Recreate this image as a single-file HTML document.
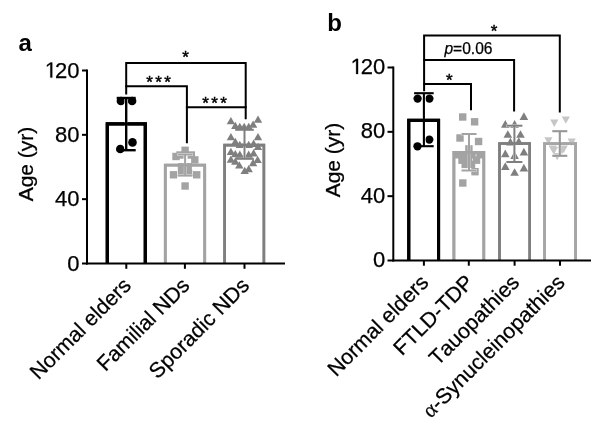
<!DOCTYPE html>
<html><head><meta charset="utf-8"><style>
html,body{margin:0;padding:0;background:#fff;width:600px;height:427px;overflow:hidden}
svg{display:block;will-change:transform}
text{font-family:"Liberation Sans", sans-serif;fill:#000;stroke:#000;stroke-width:0.25px}
</style></head><body>
<svg width="600" height="427" viewBox="0 0 600 427">
<text x="25.2" y="51.1" font-size="24" text-anchor="middle" font-weight="bold" style="stroke-width:0">a</text>
<text x="33.3" y="164" font-size="21" text-anchor="middle" transform="rotate(-90 33.3 164)">Age (yr)</text>
<path d="M107.3 263.5V123.8H145.3V263.5" fill="none" stroke="#000" stroke-width="3.2" stroke-linejoin="miter"/>
<path d="M165.3 263.5V165.1H204.7V263.5" fill="none" stroke="#a3a3a3" stroke-width="2.8" stroke-linejoin="miter"/>
<path d="M224.60000000000002 263.5V145.10000000000002H263.9V263.5" fill="none" stroke="#7f7f7f" stroke-width="2.6" stroke-linejoin="miter"/>
<circle cx="120.9" cy="101" r="4.3" fill="#000"/>
<circle cx="132.1" cy="101" r="4.3" fill="#000"/>
<circle cx="132.5" cy="142.4" r="4.3" fill="#000"/>
<circle cx="120.3" cy="149" r="4.3" fill="#000"/>
<rect x="181.40" y="146.60" width="7.4" height="7.4" fill="#a3a3a3"/>
<rect x="172.30" y="152.80" width="7.4" height="7.4" fill="#a3a3a3"/>
<rect x="176.30" y="151.30" width="7.4" height="7.4" fill="#a3a3a3"/>
<rect x="187.60" y="151.30" width="7.4" height="7.4" fill="#a3a3a3"/>
<rect x="191.10" y="156.20" width="7.4" height="7.4" fill="#a3a3a3"/>
<rect x="177.80" y="163.10" width="7.4" height="7.4" fill="#a3a3a3"/>
<rect x="184.50" y="163.10" width="7.4" height="7.4" fill="#a3a3a3"/>
<rect x="169.80" y="171.10" width="7.4" height="7.4" fill="#a3a3a3"/>
<rect x="193.00" y="171.10" width="7.4" height="7.4" fill="#a3a3a3"/>
<rect x="177.90" y="169.60" width="7.4" height="7.4" fill="#a3a3a3"/>
<rect x="184.90" y="169.60" width="7.4" height="7.4" fill="#a3a3a3"/>
<rect x="181.40" y="182.30" width="7.4" height="7.4" fill="#a3a3a3"/>
<path d="M226.70 124.20L235.10 124.20L230.9 116.90Z" fill="#7f7f7f"/>
<path d="M253.80 122.85L262.20 122.85L258 115.55Z" fill="#7f7f7f"/>
<path d="M231.10 129.10L239.50 129.10L235.3 121.80Z" fill="#7f7f7f"/>
<path d="M235.60 130.10L244.00 130.10L239.8 122.80Z" fill="#7f7f7f"/>
<path d="M240.00 130.10L248.40 130.10L244.2 122.80Z" fill="#7f7f7f"/>
<path d="M244.50 130.10L252.90 130.10L248.7 122.80Z" fill="#7f7f7f"/>
<path d="M248.90 127.75L257.30 127.75L253.1 120.45Z" fill="#7f7f7f"/>
<path d="M226.70 140.20L235.10 140.20L230.9 132.90Z" fill="#7f7f7f"/>
<path d="M253.80 140.20L262.20 140.20L258 132.90Z" fill="#7f7f7f"/>
<path d="M231.10 145.10L239.50 145.10L235.3 137.80Z" fill="#7f7f7f"/>
<path d="M235.60 147.95L244.00 147.95L239.8 140.65Z" fill="#7f7f7f"/>
<path d="M240.00 147.95L248.40 147.95L244.2 140.65Z" fill="#7f7f7f"/>
<path d="M244.50 147.95L252.90 147.95L248.7 140.65Z" fill="#7f7f7f"/>
<path d="M249.40 146.90L257.80 146.90L253.6 139.60Z" fill="#7f7f7f"/>
<path d="M253.80 150.00L262.20 150.00L258 142.70Z" fill="#7f7f7f"/>
<path d="M226.70 155.05L235.10 155.05L230.9 147.75Z" fill="#7f7f7f"/>
<path d="M231.10 157.30L239.50 157.30L235.3 150.00Z" fill="#7f7f7f"/>
<path d="M235.60 157.80L244.00 157.80L239.8 150.50Z" fill="#7f7f7f"/>
<path d="M244.50 157.80L252.90 157.80L248.7 150.50Z" fill="#7f7f7f"/>
<path d="M249.40 156.40L257.80 156.40L253.6 149.10Z" fill="#7f7f7f"/>
<path d="M226.70 162.85L235.10 162.85L230.9 155.55Z" fill="#7f7f7f"/>
<path d="M231.10 164.85L239.50 164.85L235.3 157.55Z" fill="#7f7f7f"/>
<path d="M235.10 168.45L243.50 168.45L239.3 161.15Z" fill="#7f7f7f"/>
<path d="M240.50 174.00L248.90 174.00L244.7 166.70Z" fill="#7f7f7f"/>
<path d="M244.50 172.20L252.90 172.20L248.7 164.90Z" fill="#7f7f7f"/>
<path d="M248.90 166.15L257.30 166.15L253.1 158.85Z" fill="#7f7f7f"/>
<path d="M253.40 163.05L261.80 163.05L257.6 155.75Z" fill="#7f7f7f"/>
<line x1="126.2" y1="98" x2="126.2" y2="150.2" stroke="#fff" stroke-width="3.5999999999999996"/>
<line x1="185.1" y1="154.5" x2="185.1" y2="175.4" stroke="#fff" stroke-width="2.5"/>
<line x1="177.35" y1="154.5" x2="192.85" y2="154.5" stroke="#fff" stroke-width="2.5"/>
<line x1="177.35" y1="175.4" x2="192.85" y2="175.4" stroke="#fff" stroke-width="2.5"/>
<line x1="244.5" y1="129.8" x2="244.5" y2="158.8" stroke="#fff" stroke-width="2.6"/>
<path d="M107.3 263.5V123.8H145.3V263.5" fill="none" stroke="#000" stroke-width="3.2" stroke-linejoin="miter"/>
<path d="M165.3 263.5V165.1H204.7V263.5" fill="none" stroke="#a3a3a3" stroke-width="2.8" stroke-linejoin="miter"/>
<path d="M224.60000000000002 263.5V145.10000000000002H263.9V263.5" fill="none" stroke="#7f7f7f" stroke-width="2.6" stroke-linejoin="miter"/>
<line x1="126.2" y1="98" x2="126.2" y2="150.2" stroke="#000" stroke-width="2.4"/>
<line x1="116.7" y1="98" x2="135.7" y2="98" stroke="#000" stroke-width="2.4"/>
<line x1="116.7" y1="150.2" x2="135.7" y2="150.2" stroke="#000" stroke-width="2.4"/>
<line x1="185.1" y1="154.5" x2="185.1" y2="175.4" stroke="#a3a3a3" stroke-width="2.0"/>
<line x1="177.6" y1="154.5" x2="192.6" y2="154.5" stroke="#a3a3a3" stroke-width="2.0"/>
<line x1="177.6" y1="175.4" x2="192.6" y2="175.4" stroke="#a3a3a3" stroke-width="2.0"/>
<line x1="244.5" y1="129.8" x2="244.5" y2="158.8" stroke="#7f7f7f" stroke-width="2.0"/>
<line x1="235.2" y1="129.8" x2="253.8" y2="129.8" stroke="#7f7f7f" stroke-width="2.0"/>
<line x1="235.2" y1="158.8" x2="253.8" y2="158.8" stroke="#7f7f7f" stroke-width="2.0"/>
<line x1="87" y1="69.5" x2="87" y2="264.5" stroke="#000" stroke-width="2"/>
<line x1="86" y1="263.5" x2="285" y2="263.5" stroke="#000" stroke-width="2"/>
<line x1="82" y1="263.5" x2="87" y2="263.5" stroke="#000" stroke-width="2"/>
<line x1="82" y1="199.16666666666669" x2="87" y2="199.16666666666669" stroke="#000" stroke-width="2"/>
<line x1="82" y1="134.83333333333334" x2="87" y2="134.83333333333334" stroke="#000" stroke-width="2"/>
<line x1="82" y1="70.5" x2="87" y2="70.5" stroke="#000" stroke-width="2"/>
<line x1="126.3" y1="263.5" x2="126.3" y2="268.8" stroke="#000" stroke-width="2"/>
<line x1="184.9" y1="263.5" x2="184.9" y2="268.8" stroke="#000" stroke-width="2"/>
<line x1="244.5" y1="263.5" x2="244.5" y2="268.8" stroke="#000" stroke-width="2"/>
<text x="79.5" y="270.6" font-size="22" text-anchor="end" font-weight="normal" >0</text>
<text x="79.5" y="206.26666666666668" font-size="22" text-anchor="end" font-weight="normal" >40</text>
<text x="79.5" y="141.93333333333334" font-size="22" text-anchor="end" font-weight="normal" >80</text>
<path d="M515 0L515 1237L197 1010L197 1180L530 1409L696 1409L696 0Z" fill="#000" stroke="#000" stroke-width="23.3" transform="translate(44.79 77.60) scale(0.010742 -0.010742)"/>
<text x="79.5" y="77.6" font-size="22" text-anchor="end" font-weight="normal" >20</text>
<path d="M126.2 93.4V62.9H245.7V118.2" fill="none" stroke="#000" stroke-width="2" stroke-linecap="square" stroke-linejoin="miter"/>
<path d="M126.2 86.2H186.9V142.2" fill="none" stroke="#000" stroke-width="2" stroke-linecap="square" stroke-linejoin="miter"/>
<path d="M186.9 107.2H245.7" fill="none" stroke="#000" stroke-width="2" stroke-linecap="square" stroke-linejoin="miter"/>
<text x="185.6" y="62.8" font-size="17" text-anchor="middle" font-weight="normal" style="stroke-width:0.45px">*</text>
<text x="157.9" y="88.2" font-size="17" text-anchor="middle" font-weight="normal" letter-spacing="-1.2" style="stroke-width:0.45px">* * *</text>
<text x="213.9" y="108.8" font-size="17" text-anchor="middle" font-weight="normal" letter-spacing="-1.2" style="stroke-width:0.45px">* * *</text>
<text x="132.3" y="286.8" font-size="21.3" text-anchor="end" style="font-kerning:none" transform="rotate(-45 132.3 286.8)">Normal elders</text>
<text x="190.9" y="286.8" font-size="21.3" text-anchor="end" style="font-kerning:none" transform="rotate(-45 190.9 286.8)">Familial NDs</text>
<text x="250.5" y="286.8" font-size="21.3" text-anchor="end" style="font-kerning:none" transform="rotate(-45 250.5 286.8)">Sporadic NDs</text>
<text x="334.6" y="30.8" font-size="24" text-anchor="middle" font-weight="bold" style="stroke-width:0">b</text>
<text x="339.9" y="160" font-size="21" text-anchor="middle" transform="rotate(-90 339.9 160)">Age (yr)</text>
<path d="M408.75 260.5V120.35H438.55V260.5" fill="none" stroke="#000" stroke-width="3.1" stroke-linejoin="miter"/>
<path d="M453.9 260.5V152.4H483.8V260.5" fill="none" stroke="#a3a3a3" stroke-width="2.8" stroke-linejoin="miter"/>
<path d="M499.5 260.5V143.5H529.7V260.5" fill="none" stroke="#7f7f7f" stroke-width="2.6" stroke-linejoin="miter"/>
<path d="M544.6 260.5V143.6H575.6V260.5" fill="none" stroke="#a6a6a6" stroke-width="2.8" stroke-linejoin="miter"/>
<circle cx="417.6" cy="98.6" r="4.15" fill="#000"/>
<circle cx="429.4" cy="98.6" r="4.15" fill="#000"/>
<circle cx="429.3" cy="139.6" r="4.15" fill="#000"/>
<circle cx="417.5" cy="146.3" r="4.15" fill="#000"/>
<rect x="459.00" y="113.30" width="7.4" height="7.4" fill="#a3a3a3"/>
<rect x="470.90" y="118.10" width="7.4" height="7.4" fill="#a3a3a3"/>
<rect x="456.30" y="134.30" width="7.4" height="7.4" fill="#a3a3a3"/>
<rect x="474.90" y="137.80" width="7.4" height="7.4" fill="#a3a3a3"/>
<rect x="465.20" y="145.20" width="7.4" height="7.4" fill="#a3a3a3"/>
<rect x="454.80" y="151.10" width="7.4" height="7.4" fill="#a3a3a3"/>
<rect x="461.30" y="151.10" width="7.4" height="7.4" fill="#a3a3a3"/>
<rect x="468.30" y="151.10" width="7.4" height="7.4" fill="#a3a3a3"/>
<rect x="476.30" y="151.10" width="7.4" height="7.4" fill="#a3a3a3"/>
<rect x="458.30" y="156.50" width="7.4" height="7.4" fill="#a3a3a3"/>
<rect x="464.80" y="157.10" width="7.4" height="7.4" fill="#a3a3a3"/>
<rect x="472.80" y="156.50" width="7.4" height="7.4" fill="#a3a3a3"/>
<rect x="461.50" y="160.70" width="7.4" height="7.4" fill="#a3a3a3"/>
<rect x="467.80" y="160.70" width="7.4" height="7.4" fill="#a3a3a3"/>
<rect x="471.30" y="168.00" width="7.4" height="7.4" fill="#a3a3a3"/>
<rect x="459.10" y="179.30" width="7.4" height="7.4" fill="#a3a3a3"/>
<path d="M519.60 120.07L528.20 120.07L523.9 112.33Z" fill="#7f7f7f"/>
<path d="M501.00 127.67L509.60 127.67L505.3 119.93Z" fill="#7f7f7f"/>
<path d="M510.30 127.67L518.90 127.67L514.6 119.93Z" fill="#7f7f7f"/>
<path d="M503.50 137.87L512.10 137.87L507.8 130.13Z" fill="#7f7f7f"/>
<path d="M516.20 137.87L524.80 137.87L520.5 130.13Z" fill="#7f7f7f"/>
<path d="M506.10 145.42L514.70 145.42L510.4 137.68Z" fill="#7f7f7f"/>
<path d="M514.50 145.02L523.10 145.02L518.8 137.28Z" fill="#7f7f7f"/>
<path d="M501.00 157.27L509.60 157.27L505.3 149.53Z" fill="#7f7f7f"/>
<path d="M519.60 155.57L528.20 155.57L523.9 147.83Z" fill="#7f7f7f"/>
<path d="M510.30 158.92L518.90 158.92L514.6 151.18Z" fill="#7f7f7f"/>
<path d="M501.00 169.92L509.60 169.92L505.3 162.18Z" fill="#7f7f7f"/>
<path d="M519.60 171.57L528.20 171.57L523.9 163.83Z" fill="#7f7f7f"/>
<path d="M510.30 175.87L518.90 175.87L514.6 168.13Z" fill="#7f7f7f"/>
<path d="M550.20 119.51L558.40 119.51L554.3 126.89Z" fill="#c6c6c6"/>
<path d="M561.70 116.41L569.90 116.41L565.8 123.79Z" fill="#c6c6c6"/>
<path d="M544.30 137.21L552.50 137.21L548.4 144.59Z" fill="#c6c6c6"/>
<path d="M567.60 138.61L575.80 138.61L571.7 145.99Z" fill="#c6c6c6"/>
<path d="M548.60 145.61L556.80 145.61L552.7 152.99Z" fill="#c6c6c6"/>
<path d="M559.60 145.61L567.80 145.61L563.7 152.99Z" fill="#c6c6c6"/>
<path d="M553.10 152.91L561.30 152.91L557.2 160.29Z" fill="#c6c6c6"/>
<path d="M549.90 146.81L558.10 146.81L554 154.19Z" fill="#c6c6c6"/>
<path d="M557.90 146.81L566.10 146.81L562 154.19Z" fill="#c6c6c6"/>
<line x1="423.9" y1="93.2" x2="423.9" y2="146.2" stroke="#fff" stroke-width="3.3"/>
<line x1="469" y1="134" x2="469" y2="170.5" stroke="#fff" stroke-width="2.5"/>
<line x1="461.25" y1="134" x2="476.75" y2="134" stroke="#fff" stroke-width="2.5"/>
<line x1="461.25" y1="170.5" x2="476.75" y2="170.5" stroke="#fff" stroke-width="2.5"/>
<line x1="514.4" y1="125.7" x2="514.4" y2="162" stroke="#fff" stroke-width="2.5"/>
<line x1="506.15" y1="125.7" x2="522.65" y2="125.7" stroke="#fff" stroke-width="2.5"/>
<line x1="506.15" y1="162" x2="522.65" y2="162" stroke="#fff" stroke-width="2.5"/>
<line x1="559.8" y1="131.2" x2="559.8" y2="155.8" stroke="#fff" stroke-width="2.6"/>
<line x1="552.05" y1="131.2" x2="567.55" y2="131.2" stroke="#fff" stroke-width="2.6"/>
<line x1="552.05" y1="155.8" x2="567.55" y2="155.8" stroke="#fff" stroke-width="2.6"/>
<path d="M408.75 260.5V120.35H438.55V260.5" fill="none" stroke="#000" stroke-width="3.1" stroke-linejoin="miter"/>
<path d="M453.9 260.5V152.4H483.8V260.5" fill="none" stroke="#a3a3a3" stroke-width="2.8" stroke-linejoin="miter"/>
<path d="M499.5 260.5V143.5H529.7V260.5" fill="none" stroke="#7f7f7f" stroke-width="2.6" stroke-linejoin="miter"/>
<path d="M544.6 260.5V143.6H575.6V260.5" fill="none" stroke="#a6a6a6" stroke-width="2.8" stroke-linejoin="miter"/>
<line x1="423.9" y1="93.2" x2="423.9" y2="146.2" stroke="#000" stroke-width="2.1"/>
<line x1="414.09999999999997" y1="93.2" x2="433.7" y2="93.2" stroke="#000" stroke-width="2.1"/>
<line x1="414.09999999999997" y1="146.2" x2="433.7" y2="146.2" stroke="#000" stroke-width="2.1"/>
<line x1="469" y1="134" x2="469" y2="170.5" stroke="#a3a3a3" stroke-width="2.0"/>
<line x1="461.5" y1="134" x2="476.5" y2="134" stroke="#a3a3a3" stroke-width="2.0"/>
<line x1="461.5" y1="170.5" x2="476.5" y2="170.5" stroke="#a3a3a3" stroke-width="2.0"/>
<line x1="514.4" y1="125.7" x2="514.4" y2="162" stroke="#7f7f7f" stroke-width="2.0"/>
<line x1="506.4" y1="125.7" x2="522.4" y2="125.7" stroke="#7f7f7f" stroke-width="2.0"/>
<line x1="506.4" y1="162" x2="522.4" y2="162" stroke="#7f7f7f" stroke-width="2.0"/>
<line x1="559.8" y1="131.2" x2="559.8" y2="155.8" stroke="#979797" stroke-width="2.1"/>
<line x1="552.3" y1="131.2" x2="567.3" y2="131.2" stroke="#979797" stroke-width="2.1"/>
<line x1="552.3" y1="155.8" x2="567.3" y2="155.8" stroke="#979797" stroke-width="2.1"/>
<line x1="393.3" y1="66.5" x2="393.3" y2="261.5" stroke="#000" stroke-width="2"/>
<line x1="392.3" y1="260.5" x2="591" y2="260.5" stroke="#000" stroke-width="2"/>
<line x1="387.5" y1="260.5" x2="393.3" y2="260.5" stroke="#000" stroke-width="2"/>
<line x1="387.5" y1="196.16666666666669" x2="393.3" y2="196.16666666666669" stroke="#000" stroke-width="2"/>
<line x1="387.5" y1="131.83333333333334" x2="393.3" y2="131.83333333333334" stroke="#000" stroke-width="2"/>
<line x1="387.5" y1="67.5" x2="393.3" y2="67.5" stroke="#000" stroke-width="2"/>
<line x1="423.9" y1="260.5" x2="423.9" y2="265.7" stroke="#000" stroke-width="2"/>
<line x1="468.8" y1="260.5" x2="468.8" y2="265.7" stroke="#000" stroke-width="2"/>
<line x1="514.6" y1="260.5" x2="514.6" y2="265.7" stroke="#000" stroke-width="2"/>
<line x1="560" y1="260.5" x2="560" y2="265.7" stroke="#000" stroke-width="2"/>
<text x="385.3" y="267.0" font-size="22" text-anchor="end" font-weight="normal" >0</text>
<text x="385.3" y="202.66666666666669" font-size="22" text-anchor="end" font-weight="normal" >40</text>
<text x="385.3" y="138.33333333333334" font-size="22" text-anchor="end" font-weight="normal" >80</text>
<path d="M515 0L515 1237L197 1010L197 1180L530 1409L696 1409L696 0Z" fill="#000" stroke="#000" stroke-width="23.3" transform="translate(350.59 74.00) scale(0.010742 -0.010742)"/>
<text x="385.3" y="74.0" font-size="22" text-anchor="end" font-weight="normal" >20</text>
<path d="M424.1 90.2V35.5H559.8V111.5" fill="none" stroke="#000" stroke-width="2" stroke-linecap="square" stroke-linejoin="miter"/>
<path d="M424.3 60H514.1V110.5" fill="none" stroke="#000" stroke-width="2" stroke-linecap="square" stroke-linejoin="miter"/>
<path d="M424.3 84H471V109.3" fill="none" stroke="#000" stroke-width="2" stroke-linecap="square" stroke-linejoin="miter"/>
<text x="494" y="36.8" font-size="17" text-anchor="middle" font-weight="normal" style="stroke-width:0.45px">*</text>
<text x="449.4" y="86.2" font-size="17" text-anchor="middle" font-weight="normal" style="stroke-width:0.45px">*</text>
<text x="444.4" y="54.4" font-size="15.6"><tspan font-style="italic">p</tspan>=0.06</text>
<text x="429.9" y="283.7" font-size="21.3" text-anchor="end" style="font-kerning:none" transform="rotate(-45 429.9 283.7)">Normal elders</text>
<text x="474.8" y="283.7" font-size="21.3" text-anchor="end" style="font-kerning:none" transform="rotate(-45 474.8 283.7)">FTLD-TDP</text>
<text x="520.6" y="283.7" font-size="21.3" text-anchor="end" style="font-kerning:none" transform="rotate(-45 520.6 283.7)">Tauopathies</text>
<text x="566" y="283.7" font-size="21.3" text-anchor="end" style="font-kerning:none" transform="rotate(-45 566 283.7)"><tspan font-family="Liberation Serif">α</tspan>-Synucleinopathies</text>
</svg>
</body></html>
